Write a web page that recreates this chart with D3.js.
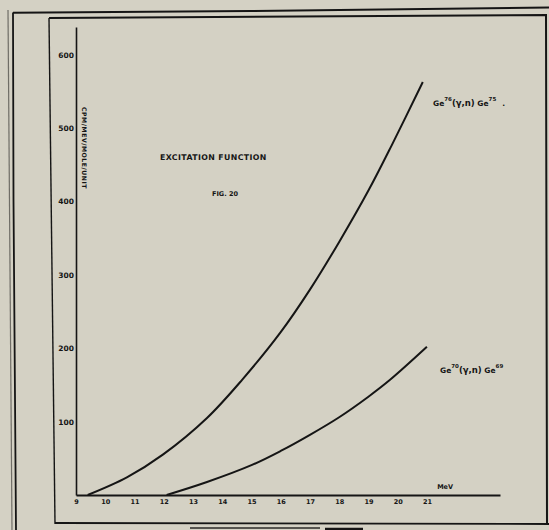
<!DOCTYPE html>
<html>
<head>
<meta charset="utf-8">
<script src="https://cdn.jsdelivr.net/npm/d3@7"></script>
<style>
  html, body { margin: 0; padding: 0; background: #d4d1c4; }
  svg { display: block; }
  text { font-family: "DejaVu Sans", "Liberation Sans", sans-serif; font-weight: bold; fill: #151515; }
</style>
</head>
<body>
<svg id="chart" width="549" height="530"></svg>
<script>
// Photon energy (MeV) and yield for each reaction
const ge76Energy = [9.4, 10.74, 11.97, 13.48, 14.68, 16.0, 17.0, 18.0, 19.0, 19.8, 20.86];
const ge76Yield  = [0, 24, 55, 105, 157, 222, 280, 345, 415, 477, 563];
const ge70Energy = [12.1, 13.48, 15.02, 16.0, 17.0, 18.0, 19.0, 19.74, 21.0];
const ge70Yield  = [0, 17.7, 41, 60, 82, 106, 134, 157, 202];

const xTicks = [9, 10, 11, 12, 13, 14, 15, 16, 17, 18, 19, 20, 21];
const yTicks = [100, 200, 300, 400, 500, 600];

const svg = d3.select("#chart");
const ink = "#151515";

// page frames
const frame = svg.append("g").attr("fill", "none").attr("stroke", ink);
frame.append("path").attr("d", "M8,10 L12,530").attr("stroke", "#6f6d66").attr("stroke-width", 1.2);
frame.append("path").attr("d", "M13,12.5 L13.5,200 L16,530").attr("stroke-width", 1.8);
frame.append("path").attr("d", "M13,12.7 L250,11 L549,7.5").attr("stroke-width", 2);
frame.append("path").attr("d", "M49,18 L546,15 L547,524").attr("stroke-width", 2);
frame.append("path").attr("d", "M49,18 L55,524").attr("stroke-width", 1.4);
frame.append("path").attr("d", "M55,523 L549,524").attr("stroke-width", 1.8);
frame.append("path").attr("d", "M190,528 L320,528").attr("stroke", "#55534e").attr("stroke-width", 2);
frame.append("path").attr("d", "M325,529 L363,529").attr("stroke-width", 2.5);

// scales
const x = d3.scaleLinear().domain([9, 23.5]).range([76, 500]);
const y = d3.scaleLinear().domain([0, 638]).range([495, 27]);

// x axis
const gx = svg.append("g").attr("transform", `translate(0,${y(0)})`)
  .call(d3.axisBottom(x).tickValues(xTicks).tickSize(0).tickPadding(4).tickFormat(d3.format("d")));
gx.select(".domain").attr("stroke", ink).attr("stroke-width", 2.2);
gx.selectAll("text").attr("font-size", 6.5).attr("fill", ink)
  .style("font-family", "DejaVu Sans").style("font-weight", "bold");

// y axis
const gy = svg.append("g").attr("transform", `translate(${x(9)},0)`)
  .call(d3.axisLeft(y).tickValues(yTicks).tickSize(0).tickPadding(2).tickFormat(d3.format("d")));
gy.select(".domain").attr("stroke", ink).attr("stroke-width", 1.6);
gy.selectAll("text").attr("font-size", 7.5).attr("fill", ink)
  .style("font-family", "DejaVu Sans").style("font-weight", "bold");

// axis titles
svg.append("text").attr("x", x(21.35)).attr("y", y(0) - 6)
  .attr("font-size", 6.5).text("MeV");
svg.append("text")
  .attr("transform", `translate(${x(9) + 6},148) rotate(90)`)
  .attr("text-anchor", "middle").attr("font-size", 6.2).attr("letter-spacing", 0.5)
  .text("CPM/MEV/MOLE/UNIT");

// curves
const line = d3.line().x(d => x(d[0])).y(d => y(d[1])).curve(d3.curveCatmullRom.alpha(0.5));
const series = [
  d3.zip(ge76Energy, ge76Yield),
  d3.zip(ge70Energy, ge70Yield)
];
svg.append("g").selectAll("path").data(series).join("path")
  .attr("d", line).attr("fill", "none").attr("stroke", ink).attr("stroke-width", 2);

// titles
svg.append("text").attr("x", 160).attr("y", 160).attr("font-size", 7.8)
  .attr("letter-spacing", 0.4).text("EXCITATION  FUNCTION");
svg.append("text").attr("x", 212).attr("y", 196).attr("font-size", 6.5).text("FIG. 20");

// reaction labels
function reaction(px, py, a1, a2, tail) {
  const t = svg.append("text").attr("x", px).attr("y", py).attr("font-size", 7.5);
  t.append("tspan").text("Ge");
  t.append("tspan").attr("dy", -5).attr("font-size", 5.5).text(a1);
  t.append("tspan").attr("dy", 5).attr("font-size", 8.5).text("(γ,n)");
  t.append("tspan").text(" Ge");
  t.append("tspan").attr("dy", -5).attr("font-size", 5.5).text(a2);
  if (tail) t.append("tspan").attr("dy", 5).attr("dx", 6).text(tail);
}
reaction(433, 106, "76", "75", ".");
reaction(440, 373, "70", "69", null);
</script>
</body>
</html>
